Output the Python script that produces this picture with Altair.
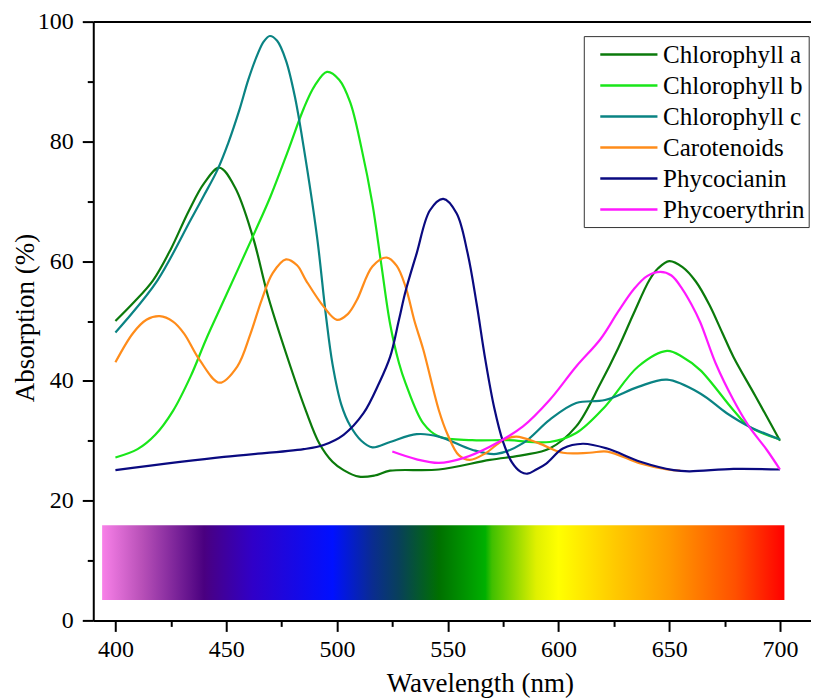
import altair as alt
import pandas as pd

FONT = "Liberation Serif"

pigments = ["Chlorophyll a", "Chlorophyll b", "Chlorophyll c",
            "Carotenoids", "Phycocianin", "Phycoerythrin"]
colors = ["#0B7A0B", "#19E619", "#0A8383", "#FF8C1A", "#0A0A80", "#FF19FF"]

chl_a_w = [400, 408, 417, 425, 433, 440, 447, 454, 462, 469, 479, 486, 492, 498, 503, 510, 517, 524,
           546, 569, 584, 596, 608, 619, 627, 634, 641, 645, 650, 656, 662, 668, 674, 679, 689, 700]
chl_a_v = [50.0, 53.0, 56.8, 62.0, 68.3, 73.0, 75.6, 72.3, 64.1, 54.0, 42.4, 35.0, 29.6, 26.5, 25.1,
           24.0, 24.2, 25.0, 25.2, 26.8, 27.6, 28.7, 32.4, 39.6, 45.5, 51.3, 56.8, 58.8, 60.0, 59.0,
           56.6, 52.8, 48.0, 44.0, 37.4, 30.0]

chl_b_w = [400, 410, 418, 426, 434, 441, 449, 462, 470, 478, 485, 490, 495.5, 501, 506, 511, 516,
           520, 524, 528, 531, 539, 546, 561, 577, 596, 608, 621, 636, 649, 656, 664, 679, 686, 700]
chl_b_v = [27.2, 28.6, 31.0, 35.0, 40.8, 47.0, 53.5, 64.1, 70.8, 78.5, 85.5, 89.3, 91.6, 90.3, 86.5,
           79.0, 69.6, 59.5, 49.5, 43.0, 39.6, 32.9, 30.7, 30.1, 30.1, 29.8, 31.3, 35.7, 42.4, 45.0,
           44.0, 41.8, 35.1, 32.4, 30.2]

chl_c_w = [400, 405, 419, 434, 440, 446, 451, 456, 460, 464, 467, 469.7, 473, 477, 481, 485, 491,
           495, 498, 502, 506, 511, 516, 524, 536, 546, 561, 572, 584, 596, 608, 621, 636, 649, 664,
           676, 686, 700]
chl_c_v = [48.1, 50.2, 56.8, 66.9, 71.0, 75.2, 79.8, 85.3, 90.3, 94.4, 96.7, 97.6, 96.8, 93.5, 87.5,
           79.0, 64.1, 51.0, 42.8, 36.0, 32.5, 30.0, 28.9, 29.8, 31.1, 30.7, 28.5, 27.8, 29.6, 33.5,
           36.3, 36.8, 39.0, 40.2, 37.9, 34.6, 32.4, 30.2]

car_w = [400, 408, 414, 420, 426, 431, 438, 447, 455, 461, 466, 471, 477, 482, 486, 494, 500, 505,
         509, 516, 522.5, 527, 531, 535, 539, 546, 550, 555, 560, 567, 575, 581, 591, 602, 614, 622,
         637, 649, 655]
car_v = [43.1, 48.0, 50.2, 50.8, 49.9, 47.9, 43.5, 39.7, 42.4, 47.9, 53.5, 58.0, 60.3, 59.3, 56.8,
         52.4, 50.2, 51.2, 53.5, 59.1, 60.6, 59.2, 55.7, 50.0, 45.2, 35.1, 31.0, 27.6, 26.8, 27.9,
         30.1, 30.7, 29.6, 28.0, 28.0, 28.2, 26.2, 25.2, 25.0]

phc_w = [400, 449, 485, 494, 503, 512, 519, 524, 528, 531, 536, 542, 548, 554, 559, 563, 567, 571,
         575, 579, 583, 586, 590, 594.5, 602, 611, 622, 637, 652, 659, 679, 700]
phc_v = [25.1, 27.3, 28.6, 29.3, 31.0, 34.6, 39.6, 44.0, 50.2, 55.0, 61.3, 68.5, 70.4, 68.0, 61.3,
         53.0, 43.5, 35.5, 29.8, 26.4, 24.8, 24.5, 25.2, 26.2, 28.7, 29.5, 28.7, 26.5, 25.1, 24.9,
         25.3, 25.2]

phe_w = [525, 536, 546, 557, 569, 584, 596, 608, 619, 627, 634, 640, 646, 651, 656, 660, 664, 671,
         679, 686, 694, 700]
phe_v = [28.2, 26.9, 26.3, 27.1, 29.0, 32.4, 36.8, 42.4, 47.0, 51.6, 55.3, 57.5, 58.2, 57.6, 55.3,
         52.8, 49.8, 42.9, 36.8, 32.4, 28.5, 25.2]

series = [(chl_a_w, chl_a_v), (chl_b_w, chl_b_v), (chl_c_w, chl_c_v),
          (car_w, car_v), (phc_w, phc_v), (phe_w, phe_v)]

# visible-spectrum colour band
band_start, band_end = 394, 702
band_bottom, band_top = 3.4, 15.9
spectrum_w = [394, 412, 440, 462, 498, 516, 528, 546, 567, 570, 590, 600, 626, 650, 680, 702]
spectrum_c = ["#F880E8", "#B850B8", "#4A0080", "#3000C8", "#0010FF", "#0A2C90", "#08405A",
              "#007000", "#00B000", "#40C000", "#E0F000", "#FFFF00", "#FFC800", "#FF9A00",
              "#FF5000", "#FF0000"]

x_ticks = list(range(400, 701, 25))
y_ticks = list(range(0, 101, 10))

rows = []
for name, (ws, vs) in zip(pigments, series):
    for w, v in zip(ws, vs):
        rows.append({"pigment": name, "w": w, "v": v})
df = pd.DataFrame(rows)

band_df = pd.DataFrame({"x0": [band_start], "x1": [band_end],
                        "y0": [band_bottom], "y1": [band_top]})

stops = [alt.GradientStop(color=c, offset=(w - band_start) / (band_end - band_start))
         for w, c in zip(spectrum_w, spectrum_c)]
gradient = alt.LinearGradient(gradient="linear", stops=stops, x1=0, x2=1, y1=0, y2=0)

xscale = alt.Scale(domain=[390, 714], nice=False, zero=False)
yscale = alt.Scale(domain=[0, 100], nice=False, zero=False)

common_axis = dict(
    domainColor="black", domainWidth=2, tickColor="black", tickWidth=2,
    labelColor="black", labelFont=FONT, labelFontSize=24, titleFont=FONT,
    titleFontSize=27, titleFontWeight="normal", titleColor="black", grid=False,
    labelOverlap=False, labelFlush=False,
)

x_axis = alt.Axis(
    orient="bottom", values=x_ticks,
    labelExpr="datum.value % 50 === 0 ? datum.label : ''",
    tickSize={"condition": {"test": "datum.value % 50 === 0", "value": 11}, "value": 6},
    labelBaseline="alphabetic", labelPadding=25.5,
    title="Wavelength (nm)", titleX=386.7, titleY=71.5, titleAlign="center",
    titleBaseline="alphabetic", titleAnchor="start",
    **common_axis,
)
y_axis = alt.Axis(
    orient="left", values=y_ticks,
    labelExpr="datum.value % 20 === 0 ? datum.label : ''",
    tickSize={"condition": {"test": "datum.value % 20 === 0", "value": 11}, "value": 6},
    labelPadding=9, labelAlign="right", labelBaseline="middle",
    title="Absorption (%)", titleAngle=270, titleX=-59.3, titleY=296,
    titleAlign="center", titleBaseline="alphabetic",
    **common_axis,
)
top_axis = alt.Axis(orient="top", labels=False, ticks=False, title=None,
                    domainColor="black", domainWidth=2, grid=False)

band = alt.Chart(band_df).mark_rect(fill=gradient).encode(
    x=alt.X("x0:Q", scale=xscale, axis=x_axis),
    x2="x1:Q",
    y=alt.Y("y0:Q", scale=yscale, axis=y_axis),
    y2="y1:Q",
)

lines = alt.Chart(df).mark_line(strokeWidth=2.2, interpolate="catmull-rom").encode(
    x=alt.X("w:Q", scale=xscale, axis=top_axis),
    y=alt.Y("v:Q", scale=yscale, axis=None),
    color=alt.Color(
        "pigment:N",
        scale=alt.Scale(domain=pigments, range=colors),
        legend=alt.Legend(
            title=None, orient="none", legendX=490.7, legendY=14.5,
            symbolType="M-2.2,0L2.2,0", symbolSize=676, symbolStrokeWidth=2.5,
            labelFont=FONT, labelFontSize=25, labelColor="black", labelLimit=400,
            padding=4, rowPadding=3, strokeColor="#333333", fillColor="white",
            symbolOffset=26.6, labelOffset=19.7,
        ),
    ),
    order=alt.Order("w:Q"),
)

chart = (
    alt.layer(band, lines)
    .resolve_axis(x="independent", y="independent")
    .properties(
        width=718, height=599,
        padding={"left": 85.3, "top": 13.5, "right": 0, "bottom": 80},
        autosize=alt.AutoSizeParams(type="none"),
        background="white",
    )
    .configure(font=FONT)
    .configure_axis(labelFont=FONT, titleFont=FONT)
    .configure_legend(labelFont=FONT)
    .configure_view(stroke=None)
)

chart.save("out.html", embed_options={"renderer": "svg", "actions": False})
